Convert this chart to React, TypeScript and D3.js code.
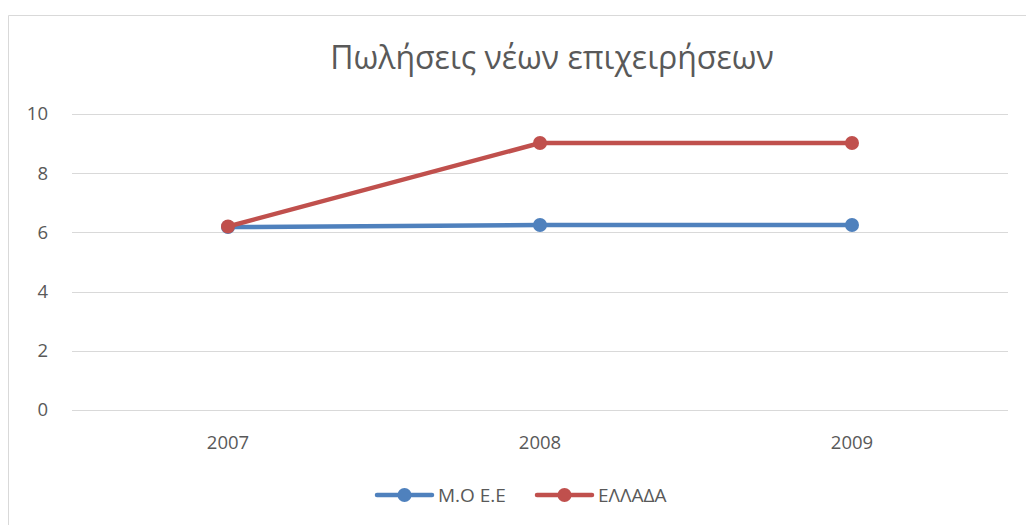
import React from "react";
import * as d3 from "d3";

const categories = ["2007", "2008", "2009"];
const seriesNames = ["Μ.Ο Ε.Ε", "ΕΛΛΑΔΑ"];
const moeeValues = [6.18, 6.25, 6.25];
const elladaValues = [6.2, 9.02, 9.02];
const yTicks = [0, 2, 4, 6, 8, 10];
const title = "Πωλήσεις νέων επιχειρήσεων";

const colors = ["#4F81BD", "#C0504D"];

export default function App() {
  const W = 1026, H = 525;
  const left = 72, right = 1008, top = 114, bottom = 410;
  const x = d3.scaleBand().domain(categories).range([left, right]);
  const y = d3.scaleLinear().domain([0, 10]).range([bottom, top]);
  const cx = (c: string) => (x(c) as number) + x.bandwidth() / 2;
  const line = d3.line<number>().x((_, i) => cx(categories[i])).y((v) => y(v));
  const series = [moeeValues, elladaValues];
  const font = "'Open Sans', 'Noto Sans', sans-serif";
  const legendX = [377, 537];
  return (
    <svg width={W} height={H} style={{ position: "absolute", left: 0, top: 0 }}>
      <rect x={0} y={0} width={W} height={H} fill="#fff" />
      <path d={`M8.5,${H} V15.5 H${W}`} fill="none" stroke="#D9D9D9" strokeWidth={1} />
      <text x={552} y={69} textAnchor="middle" fontFamily={font} fontSize={32} fill="#595959">{title}</text>
      {yTicks.map((t) => (
        <g key={t}>
          <line x1={left} x2={right} y1={Math.round(y(t)) + 0.5} y2={Math.round(y(t)) + 0.5} stroke="#D9D9D9" strokeWidth={1} />
          <text x={48} y={y(t)} dy="0.35em" textAnchor="end" fontFamily={font} fontSize={18.5} fill="#595959">{t}</text>
        </g>
      ))}
      {categories.map((c) => (
        <text key={c} x={cx(c)} y={443} dy="0.35em" textAnchor="middle" fontFamily={font} fontSize={18.5} fill="#595959">{c}</text>
      ))}
      {series.map((s, si) => (
        <g key={si}>
          <path d={line(s) as string} fill="none" stroke={colors[si]} strokeWidth={4.5} strokeLinecap="round" />
          {s.map((v, i) => (
            <circle key={i} cx={cx(categories[i])} cy={y(v)} r={7} fill={colors[si]} />
          ))}
        </g>
      ))}
      {seriesNames.map((n, si) => (
        <g key={n}>
          <line x1={legendX[si]} x2={legendX[si] + 55} y1={495} y2={495} stroke={colors[si]} strokeWidth={4.5} strokeLinecap="round" />
          <circle cx={legendX[si] + 27.5} cy={495} r={7} fill={colors[si]} />
          <text x={legendX[si] + 61} y={495} dy="0.35em" fontFamily={font} fontSize={19} fill="#595959">{n}</text>
        </g>
      ))}
    </svg>
  );
}
